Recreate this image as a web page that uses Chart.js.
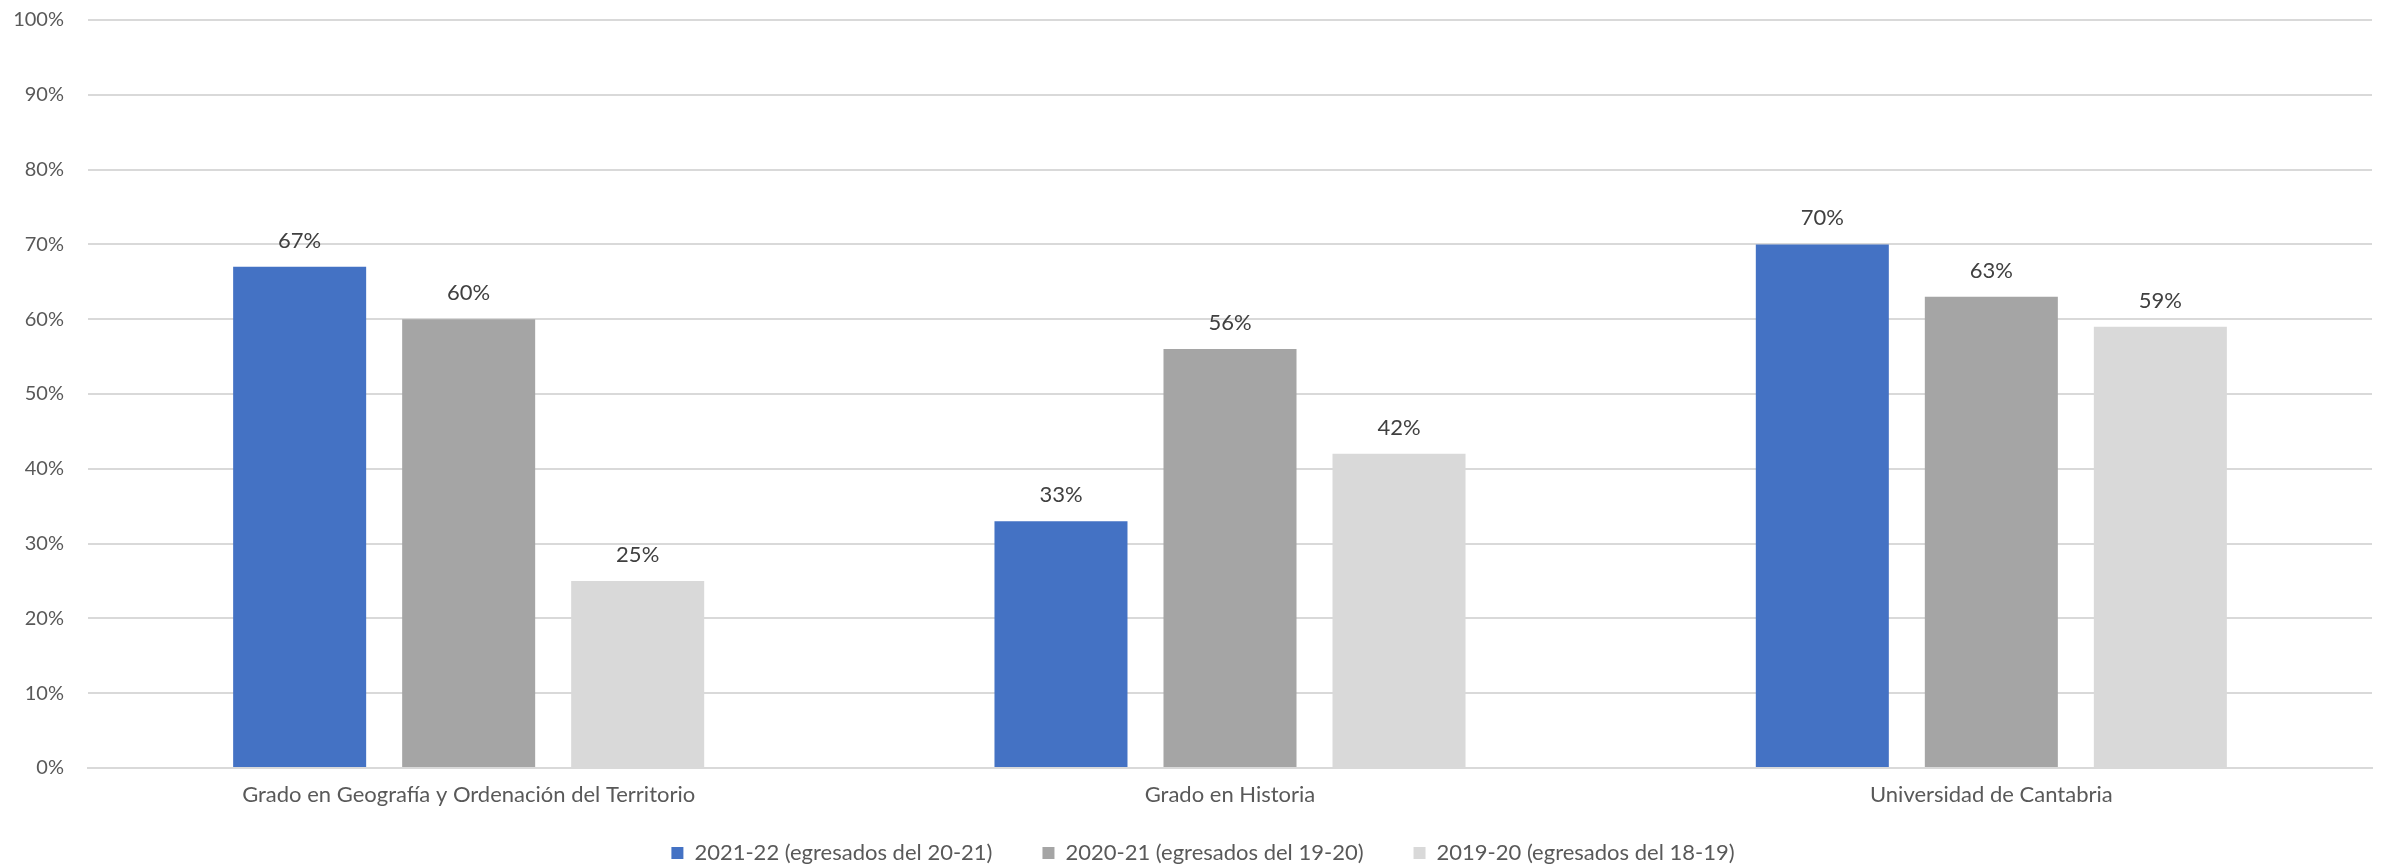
<!DOCTYPE html>
<html>
<head>
<meta charset="utf-8">
<script src="https://cdn.jsdelivr.net/npm/chart.js@4/dist/chart.umd.min.js"></script>
<style>
  html, body { margin: 0; padding: 0; background: #fff; }
  #wrap { width: 2384px; height: 865px; }
</style>
</head>
<body>
<div id="wrap"><canvas id="chart"></canvas></div>
<script>
const categories = ['Grado en Geografía y Ordenación del Territorio', 'Grado en Historia', 'Universidad de Cantabria'];
const seriesNames = ['2021-22 (egresados del 20-21)', '2020-21 (egresados del 19-20)', '2019-20 (egresados del 18-19)'];
const values2122 = [67, 33, 70];
const values2021 = [60, 56, 63];
const values1920 = [25, 42, 59];
const yTicks = [0, 10, 20, 30, 40, 50, 60, 70, 80, 90, 100];

const FONT = 'Lato, "Noto Sans", sans-serif';

// value labels above each bar
const barLabels = {
  id: 'barLabels',
  afterDatasetsDraw(chart) {
    const { ctx } = chart;
    ctx.save();
    ctx.font = `22px ${FONT}`;
    ctx.fillStyle = '#404040';
    ctx.textAlign = 'center';
    ctx.textBaseline = 'middle';
    chart.data.datasets.forEach((ds, i) => {
      const meta = chart.getDatasetMeta(i);
      meta.data.forEach((bar, j) => {
        ctx.fillText(`${ds.data[j]}%`, bar.x, bar.y - 26);
      });
    });
    ctx.restore();
  },
};

// x axis box is kept short so the legend sits close; let its labels draw below it
const layoutTweak = {
  id: 'layoutTweak',
  afterLayout(chart) {
    chart.scales.x.bottom = chart.scales.x.top + 60;
    chart.legend.left += 17;
    chart.legend.right += 17;
    chart.legend.top += 4;
    chart.legend.bottom += 4;
  },
};

new Chart(document.getElementById('chart'), {
  type: 'bar',
  data: {
    labels: categories,
    datasets: [
      { label: seriesNames[0], data: values2122, backgroundColor: '#4472C4' },
      { label: seriesNames[1], data: values2021, backgroundColor: '#A5A5A5' },
      { label: seriesNames[2], data: values1920, backgroundColor: '#D9D9D9' },
    ],
  },
  options: {
    responsive: true,
    maintainAspectRatio: false,
    animation: false,
    categoryPercentage: 0.666,
    barPercentage: 0.787,
    layout: { padding: { top: 20, right: 12, left: 0, bottom: 0 } },
    plugins: {
      legend: {
        position: 'bottom',
        maxHeight: 77,
        labels: {
          boxWidth: 12,
          boxHeight: 12,
          padding: 50,
          color: '#595959',
          font: { family: FONT, size: 22 },
        },
      },
      tooltip: { enabled: false },
    },
    scales: {
      x: {
        afterFit(scale) { scale.height = 20; },
        grid: { display: false },
        border: { display: true, color: '#D9D9D9', width: 2 },
        ticks: { color: '#595959', font: { family: FONT, size: 22 }, padding: 6 },
      },
      y: {
        min: 0,
        max: 100,
        afterFit(scale) {
          scale.width = 88;
          scale.paddingTop = 0;
          scale.paddingBottom = 0;
        },
        afterBuildTicks(scale) { scale.ticks = yTicks.map((v) => ({ value: v })); },
        grid: { color: '#D9D9D9', lineWidth: 2, drawTicks: false },
        border: { display: false },
        ticks: {
          color: '#595959',
          font: { family: FONT, size: 20 },
          padding: 24,
          callback: (v) => `${v}%`,
        },
      },
    },
  },
  plugins: [barLabels, layoutTweak],
});
</script>
</body>
</html>
